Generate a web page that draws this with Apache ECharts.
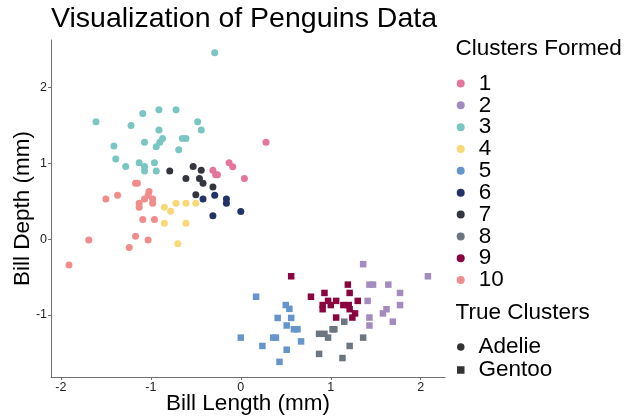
<!DOCTYPE html>
<html>
<head>
<meta charset="utf-8">
<script src="https://cdn.jsdelivr.net/npm/echarts@6/dist/echarts.min.js"></script>
<style>
  html, body { margin: 0; padding: 0; background: #fff; }
  #chart { width: 628px; height: 419px; }
</style>
</head>
<body>
<div id="chart"></div>
<script>
// Standardised bill length / depth per point, grouped by cluster label
const cluster1 = [[0.28,1.28],[-0.13,1.01],[-0.09,0.955],[-0.31,0.91],[-0.28,0.85],[-0.26,0.85],[0.04,0.80]];
const cluster2 = [[1.36,-0.33],[2.08,-0.49],[1.43,-0.60],[1.47,-0.60],[1.64,-0.60],[1.77,-0.71],[1.41,-0.815],[1.77,-0.87],[1.62,-0.925],[1.58,-0.98],[1.43,-1.035],[1.69,-1.09],[1.43,-1.14]];
const cluster3 = [[-1.61,1.55],[-1.09,1.66],[-0.91,1.71],[-0.72,1.71],[-1.22,1.50],[-0.91,1.44],[-0.87,1.33],[-0.90,1.28],[-0.94,1.22],[-1.07,1.28],[-1.41,1.23],[-0.69,1.18],[-1.39,1.06],[-1.13,1.01],[-1.28,0.96],[-1.07,0.96],[-1.07,0.90],[-0.96,1.01],[-0.94,0.90],[-0.29,2.46],[-0.48,1.55],[-0.44,1.44],[-0.65,1.33],[-0.61,1.33]];
const cluster4 = [[-0.85,0.42],[-0.78,0.37],[-0.72,0.475],[-0.61,0.475],[-0.50,0.475],[-0.85,0.21],[-0.61,0.21],[-0.70,-0.06]];
const cluster5 = [[0.17,-0.76],[0.50,-0.87],[0.54,-0.92],[0.41,-1.04],[0.56,-1.04],[0.51,-1.14],[0.59,-1.19],[0.63,-1.19],[0.0,-1.30],[0.36,-1.30],[0.39,-1.30],[0.67,-1.35],[0.24,-1.41],[0.51,-1.46],[0.43,-1.62]];
const cluster6 = [[-0.29,0.58],[-0.42,0.53],[-0.16,0.53],[-0.16,0.475],[0.0,0.365],[-0.31,0.31]];
const cluster7 = [[-0.79,0.90],[-0.53,0.96],[-0.44,0.91],[-0.61,0.80],[-0.46,0.80],[-0.42,0.74],[-0.31,0.69],[-0.50,0.585]];
const cluster8 = [[1.15,-1.09],[1.02,-1.19],[1.04,-1.19],[0.87,-1.25],[0.93,-1.25],[0.97,-1.30],[1.21,-1.41],[0.87,-1.515],[1.13,-1.57],[1.36,-1.30]];
const cluster9 = [[0.56,-0.49],[1.19,-0.60],[0.93,-0.71],[1.21,-0.71],[0.78,-0.76],[0.97,-0.815],[1.06,-0.815],[0.91,-0.87],[1.0,-0.87],[1.14,-0.87],[1.2,-0.87],[1.30,-0.815],[0.91,-0.925],[1.21,-0.925],[1.27,-0.98],[1.06,-1.035],[1.24,-1.035]];
const cluster10 = [[-1.17,0.74],[-1.15,0.74],[-1.37,0.58],[-1.50,0.53],[-1.02,0.63],[-1.03,0.58],[-1.07,0.53],[-0.98,0.53],[-0.98,0.475],[-1.13,0.475],[-1.13,0.42],[-1.09,0.26],[-0.96,0.26],[-1.17,0.04],[-1.03,-0.01],[-1.69,-0.01],[-1.24,-0.11],[-1.91,-0.34]];

const clusterNames = ['1','2','3','4','5','6','7','8','9','10'];
const clusterData = [cluster1, cluster2, cluster3, cluster4, cluster5, cluster6, cluster7, cluster8, cluster9, cluster10];
// species of each cluster: Adelie (circle) or Gentoo (square)
const clusterSpecies = ['Adelie','Gentoo','Adelie','Adelie','Gentoo','Adelie','Adelie','Gentoo','Gentoo','Adelie'];
const speciesNames = ['Adelie','Gentoo'];
const xTicks = [-2, -1, 0, 1, 2];
const yTicks = [-1, 0, 1, 2];

const palette = ['#E3769A','#A38BC0','#7AC6C2','#F9D977','#6595CB','#243367','#33363F','#6B7680','#8A0540','#F08C8B'];
const font = 'Liberation Sans, Arial, Helvetica, sans-serif';

const series = clusterNames.map((name, i) => ({
  name: name,
  type: 'scatter',
  data: clusterData[i],
  symbol: clusterSpecies[i] === 'Adelie' ? 'circle' : 'rect',
  symbolSize: clusterSpecies[i] === 'Adelie' ? 7 : 6.5,
  itemStyle: { color: palette[i], opacity: 1 },
  emphasis: { disabled: true }
}));
speciesNames.forEach(name => {
  series.push({ name: name, type: 'scatter', data: [], itemStyle: { color: '#000' } });
});

const legendText = { fontFamily: font, fontSize: 22.5, color: '#000', padding: [0, 0, 0, 9] };

const chart = echarts.init(document.getElementById('chart'), null, { renderer: 'canvas' });
chart.setOption({
  animation: false,
  textStyle: { fontFamily: font },
  title: [
    { text: 'Visualization of Penguins Data', left: 51, top: 5, padding: 0,
      textStyle: { fontFamily: font, fontSize: 28.5, fontWeight: 'normal', color: '#000' } },
    { text: 'Clusters Formed', left: 455.5, top: 37, padding: 0,
      textStyle: { fontFamily: font, fontSize: 22.5, fontWeight: 'normal', color: '#000' } },
    { text: 'True Clusters', left: 455.5, top: 301, padding: 0,
      textStyle: { fontFamily: font, fontSize: 22.5, fontWeight: 'normal', color: '#000' } }
  ],
  grid: { left: 51, right: 183, top: 40, bottom: 42, containLabel: false, outerBoundsMode: 'none' },
  xAxis: {
    type: 'value', min: -2.11, max: 2.27,
    name: 'Bill Length (mm)', nameLocation: 'middle', nameGap: 15, nameMoveOverlap: false,
    nameTextStyle: { fontFamily: font, fontSize: 22.5, color: '#000' },
    axisLine: { show: true, onZero: false, lineStyle: { color: '#6f6f6f', width: 1 } },
    axisTick: { show: true, length: 3, lineStyle: { color: '#6f6f6f' }, customValues: xTicks },
    axisLabel: { fontFamily: font, fontSize: 12.5, color: '#222', margin: 4, customValues: xTicks },
    splitLine: { show: false }
  },
  yAxis: {
    type: 'value', min: -1.82, max: 2.63,
    name: 'Bill Depth (mm)', nameLocation: 'middle', nameGap: 17, nameMoveOverlap: false,
    nameTextStyle: { fontFamily: font, fontSize: 22.5, color: '#000' },
    axisLine: { show: true, onZero: false, lineStyle: { color: '#6f6f6f', width: 1 } },
    axisTick: { show: true, length: 3, lineStyle: { color: '#6f6f6f' }, customValues: yTicks },
    axisLabel: { fontFamily: font, fontSize: 12.5, color: '#222', margin: 4, customValues: yTicks },
    splitLine: { show: false }
  },
  legend: [
    {
      data: clusterNames, orient: 'vertical', left: 456.7, top: 72, padding: 0,
      icon: 'circle', itemWidth: 8, itemHeight: 8, itemGap: -1.16,
      textStyle: Object.assign({ lineHeight: 20.84 }, legendText),
      selectedMode: false
    },
    {
      data: [{ name: 'Adelie', icon: 'circle' }, { name: 'Gentoo', icon: 'rect' }],
      orient: 'vertical', left: 457, top: 335.5, padding: 0,
      itemWidth: 7.5, itemHeight: 7.5, itemGap: 0,
      textStyle: Object.assign({ lineHeight: 20.84 }, legendText),
      selectedMode: false
    }
  ],
  series: series
});
</script>
</body>
</html>
